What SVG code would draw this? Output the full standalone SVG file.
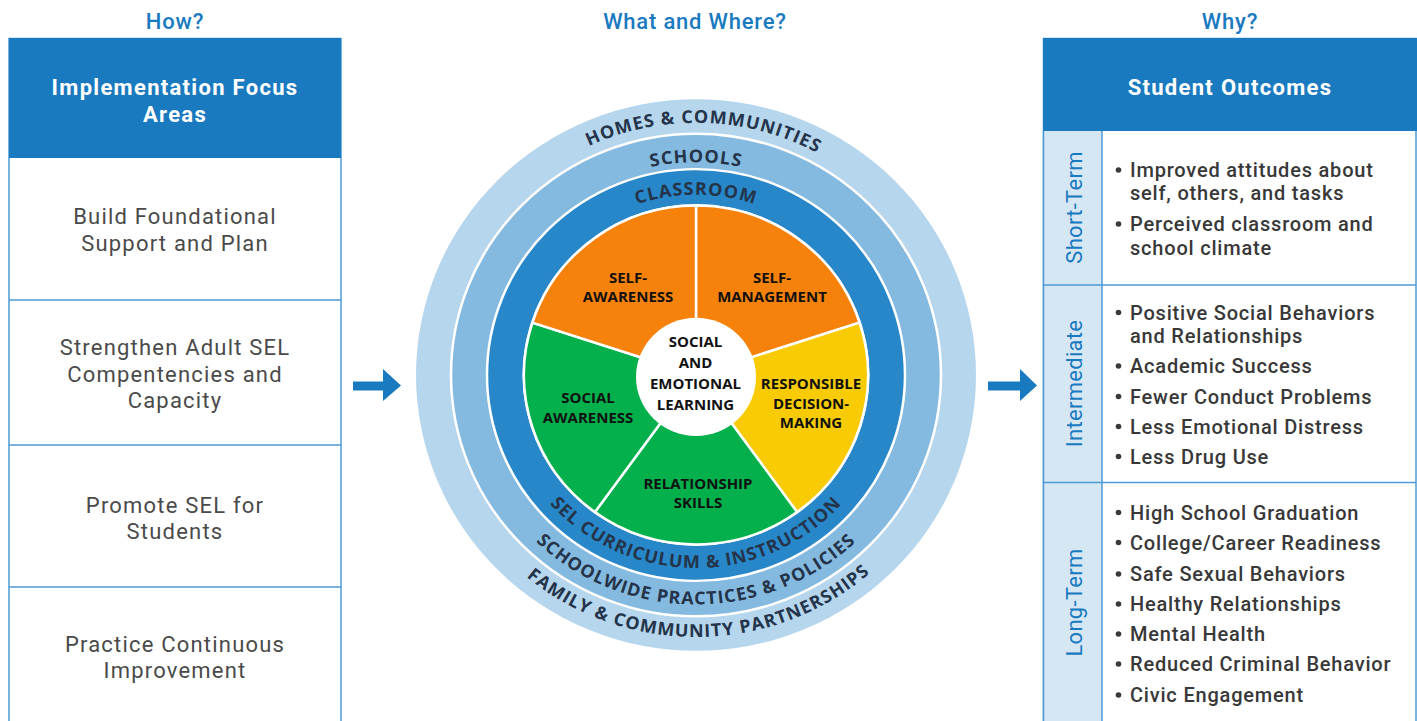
<svg xmlns="http://www.w3.org/2000/svg" width="1417" height="721" viewBox="0 0 1417 721">
<defs>
<style>
.ttl{font-family:Roboto,"Liberation Sans",sans-serif;font-size:22px;font-weight:500;fill:#1a7abf;text-anchor:middle;letter-spacing:0.8px}
.hdr{font-family:Roboto,"Liberation Sans",sans-serif;font-size:22px;font-weight:700;fill:#ffffff;text-anchor:middle;letter-spacing:1.3px}
.row{font-family:Roboto,"Liberation Sans",sans-serif;font-size:22px;fill:#4a4a4a;text-anchor:middle;letter-spacing:1.2px}
.bul{font-family:Roboto,"Liberation Sans",sans-serif;font-size:20px;font-weight:500;fill:#383838;letter-spacing:0.8px}
.vl{font-family:Roboto,"Liberation Sans",sans-serif;font-size:22px;fill:#1a7abf;text-anchor:middle;letter-spacing:0.3px}
.box{fill:#ffffff;stroke:#4d9ad6;stroke-width:1.5}
.div{stroke:#4d9ad6;stroke-width:1.5}
.ring{font-family:"Open Sans","Noto Sans",sans-serif;font-size:18px;font-weight:700;fill:#24344a;letter-spacing:1px}
.pl{font-family:"Open Sans","Noto Sans",sans-serif;font-size:15px;font-weight:700;fill:#111111;text-anchor:middle}
.wedge{stroke:#ffffff;stroke-width:2.5}
.arrow{fill:#1a7abf}
.dot{fill:#3a3a3a}
</style>
<path id="pHomes" d="M-256,0 A256,256 0 0 1 256,0"/>
<path id="pSchools" d="M-216,0 A216,216 0 0 1 216,0"/>
<path id="pClass" d="M-183,0 A183,183 0 0 1 183,0"/>
<path id="pSel" d="M-196,0 A196,196 0 0 0 196,0"/>
<path id="pWide" d="M-233,0 A233,233 0 0 0 233,0"/>
<path id="pFam" d="M-266,0 A266,266 0 0 0 266,0"/>
</defs>
<rect width="1417" height="721" fill="#ffffff"/>

<g id="titles">
<text class="ttl" x="175" y="29">How?</text>
<text class="ttl" x="695" y="29">What and Where?</text>
<text class="ttl" x="1230" y="29">Why?</text>
</g>

<g id="left-column">
<rect class="box" x="9" y="38.5" width="332" height="700"/>
<g id="impl-header">
<rect x="9" y="38" width="332" height="120" fill="#1a7abf"/>
<text class="hdr" x="175" y="95">Implementation Focus</text>
<text class="hdr" x="175" y="122">Areas</text>
</g>
<g id="row-build">
<text class="row" x="175" y="224">Build Foundational</text>
<text class="row" x="175" y="251">Support and Plan</text>
</g>
<line class="div" x1="9" y1="300" x2="341" y2="300"/>
<g id="row-adult">
<text class="row" x="175" y="355">Strengthen Adult SEL</text>
<text class="row" x="175" y="382">Compentencies and</text>
<text class="row" x="175" y="408">Capacity</text>
</g>
<line class="div" x1="9" y1="445" x2="341" y2="445"/>
<g id="row-students">
<text class="row" x="175" y="513">Promote SEL for</text>
<text class="row" x="175" y="539">Students</text>
</g>
<line class="div" x1="9" y1="587" x2="341" y2="587"/>
<g id="row-improve">
<text class="row" x="175" y="652">Practice Continuous</text>
<text class="row" x="175" y="678">Improvement</text>
</g>
</g>

<g id="connectors">
<path class="arrow" d="M353,381.5 H383 V369 L401,385.5 L383,401 V390.5 H353 Z"/>
<path class="arrow" d="M988,381.5 H1020 V369 L1037,385.5 L1020,401 V390.5 H988 Z"/>
</g>

<g id="sel-wheel">
<g transform="translate(696,375) scale(1,0.985)">
<circle r="280" fill="#b5d6ed"/>
<circle r="245" fill="#84badf" stroke="#ffffff" stroke-width="2.5"/>
<circle r="209" fill="#2787c9" stroke="#ffffff" stroke-width="2.5"/>
<circle r="173.5" fill="#ffffff"/>
<path class="wedge" fill="#f7820b" d="M0,0 L0,-172 A172,172 0 0 1 163.58,-53.15 Z"/>
<path class="wedge" fill="#f8cb05" d="M0,0 L163.58,-53.15 A172,172 0 0 1 101.1,139.15 Z"/>
<path class="wedge" fill="#03b04c" d="M0,0 L101.1,139.15 A172,172 0 0 1 -101.1,139.15 Z"/>
<path class="wedge" fill="#03b04c" d="M0,0 L-101.1,139.15 A172,172 0 0 1 -163.58,-53.15 Z"/>
<path class="wedge" fill="#f7820b" d="M0,0 L-163.58,-53.15 A172,172 0 0 1 0,-172 Z"/>
<circle cx="0" cy="2" r="60" fill="#ffffff"/>
<text class="ring"><textPath href="#pHomes" startOffset="51%" text-anchor="middle">HOMES &amp; COMMUNITIES</textPath></text>
<text class="ring"><textPath href="#pSchools" startOffset="50%" text-anchor="middle">SCHOOLS</textPath></text>
<text class="ring"><textPath href="#pClass" startOffset="50%" text-anchor="middle">CLASSROOM</textPath></text>
<text class="ring"><textPath href="#pSel" startOffset="50%" text-anchor="middle">SEL CURRICULUM &amp; INSTRUCTION</textPath></text>
<text class="ring"><textPath href="#pWide" startOffset="50%" text-anchor="middle">SCHOOLWIDE PRACTICES &amp; POLICIES</textPath></text>
<text class="ring"><textPath href="#pFam" startOffset="50.4%" text-anchor="middle">FAMILY &amp; COMMUNITY PARTNERSHIPS</textPath></text>
</g>
<g id="self-awareness">
<text class="pl" x="628" y="283">SELF-</text>
<text class="pl" x="628" y="302">AWARENESS</text>
</g>
<g id="self-management">
<text class="pl" x="772" y="283">SELF-</text>
<text class="pl" x="772" y="302">MANAGEMENT</text>
</g>
<g id="social-awareness">
<text class="pl" x="588" y="403">SOCIAL</text>
<text class="pl" x="588" y="423">AWARENESS</text>
</g>
<g id="relationship-skills">
<text class="pl" x="698" y="489">RELATIONSHIP</text>
<text class="pl" x="698" y="508">SKILLS</text>
</g>
<g id="responsible">
<text class="pl" x="811" y="389">RESPONSIBLE</text>
<text class="pl" x="811" y="409">DECISION-</text>
<text class="pl" x="811" y="428">MAKING</text>
</g>
<g id="sel-center">
<text class="pl" x="695.5" y="347">SOCIAL</text>
<text class="pl" x="695.5" y="368">AND</text>
<text class="pl" x="695.5" y="389">EMOTIONAL</text>
<text class="pl" x="695.5" y="410">LEARNING</text>
</g>
</g>

<g id="right-column">
<rect class="box" x="1043.5" y="38.5" width="372.5" height="700"/>
<rect x="1043.5" y="131" width="58.5" height="600" fill="#d6e7f4"/>
<line class="div" x1="1102" y1="131" x2="1102" y2="730"/>
<line class="div" x1="1043.5" y1="131" x2="1043.5" y2="730"/>
<g id="outcomes-header">
<rect x="1043" y="38" width="374" height="93" fill="#1a7abf"/>
<text class="hdr" x="1230" y="95">Student Outcomes</text>
</g>
<g id="short-term">
<text class="vl" transform="translate(1082,207.5) rotate(-90)">Short-Term</text>
<circle class="dot" cx="1118.5" cy="170" r="2.8"/>
<text class="bul" x="1130" y="177">Improved attitudes about</text>
<text class="bul" x="1130" y="200">self, others, and tasks</text>
<circle class="dot" cx="1118.5" cy="224" r="2.8"/>
<text class="bul" x="1130" y="231">Perceived classroom and</text>
<text class="bul" x="1130" y="255">school climate</text>
</g>
<line class="div" x1="1043.5" y1="285" x2="1416" y2="285"/>
<g id="intermediate">
<text class="vl" transform="translate(1082,383.5) rotate(-90)">Intermediate</text>
<circle class="dot" cx="1118.5" cy="312.5" r="2.8"/>
<text class="bul" x="1130" y="319.5">Positive Social Behaviors</text>
<text class="bul" x="1130" y="343">and Relationships</text>
<circle class="dot" cx="1118.5" cy="366" r="2.8"/>
<text class="bul" x="1130" y="373">Academic Success</text>
<circle class="dot" cx="1118.5" cy="396.5" r="2.8"/>
<text class="bul" x="1130" y="403.5">Fewer Conduct Problems</text>
<circle class="dot" cx="1118.5" cy="426.5" r="2.8"/>
<text class="bul" x="1130" y="433.5">Less Emotional Distress</text>
<circle class="dot" cx="1118.5" cy="456.5" r="2.8"/>
<text class="bul" x="1130" y="463.5">Less Drug Use</text>
</g>
<line class="div" x1="1043.5" y1="482.5" x2="1416" y2="482.5"/>
<g id="long-term">
<text class="vl" transform="translate(1082,602.5) rotate(-90)">Long-Term</text>
<circle class="dot" cx="1118.5" cy="512.5" r="2.8"/>
<text class="bul" x="1130" y="519.5">High School Graduation</text>
<circle class="dot" cx="1118.5" cy="542.5" r="2.8"/>
<text class="bul" x="1130" y="549.5">College/Career Readiness</text>
<circle class="dot" cx="1118.5" cy="574" r="2.8"/>
<text class="bul" x="1130" y="581">Safe Sexual Behaviors</text>
<circle class="dot" cx="1118.5" cy="604" r="2.8"/>
<text class="bul" x="1130" y="611">Healthy Relationships</text>
<circle class="dot" cx="1118.5" cy="634" r="2.8"/>
<text class="bul" x="1130" y="641">Mental Health</text>
<circle class="dot" cx="1118.5" cy="664" r="2.8"/>
<text class="bul" x="1130" y="671">Reduced Criminal Behavior</text>
<circle class="dot" cx="1118.5" cy="695" r="2.8"/>
<text class="bul" x="1130" y="702">Civic Engagement</text>
</g>
</g>
</svg>
